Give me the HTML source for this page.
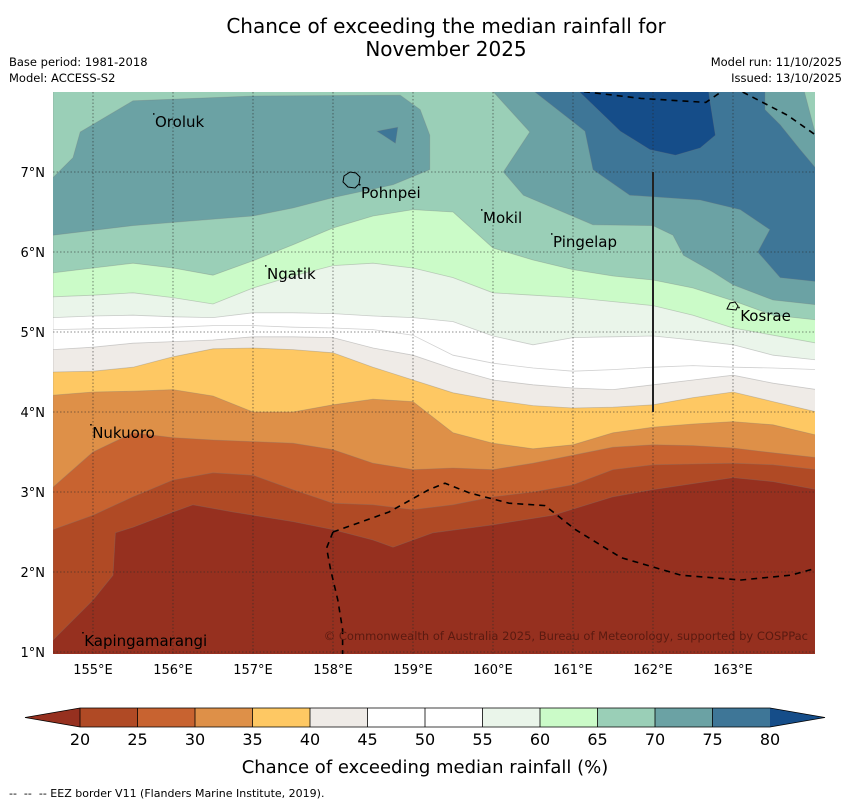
<!DOCTYPE html>
<html><head><meta charset="utf-8"><style>
body{margin:0;background:#fff;}
svg{display:block;font-family:"DejaVu Sans","Liberation Sans",sans-serif;}
</style></head><body>
<svg id="chart" width="850" height="804" viewBox="0 0 850 804">
<text x="446" y="33" text-anchor="middle" font-size="20">Chance of exceeding the median rainfall for</text>
<text x="446" y="56" text-anchor="middle" font-size="20">November 2025</text>
<text x="9" y="66" font-size="11.5">Base period: 1981-2018</text>
<text x="9" y="82" font-size="11.5">Model: ACCESS-S2</text>
<text x="842" y="66" font-size="11.5" text-anchor="end">Model run: 11/10/2025</text>
<text x="842" y="82" font-size="11.5" text-anchor="end">Issued: 13/10/2025</text>
<defs><clipPath id="mapclip"><rect x="53" y="92" width="762" height="562"/></clipPath></defs>
<g id="map" clip-path="url(#mapclip)"></g>
<g id="axes"></g>
<g id="cbar"></g>
<text x="425" y="773" text-anchor="middle" font-size="18">Chance of exceeding median rainfall (%)</text>
<text x="9" y="797" font-size="11" xml:space="preserve" style="white-space:pre">--  --  -- EEZ border V11 (Flanders Marine Institute, 2019).</text>
</svg>
<script>
// ---- data ----
const levels = [20,25,30,35,40,45,50,55,60,65,70,75,80];
const bandColors = ["#96301f","#b04a25","#c86330","#de9048","#fec863","#efebe7","#ffffff","#ffffff","#eaf5ea","#cbfbc8","#9acfb7","#6ba2a4","#3e7697","#154d89"];
const gridLons = [154.5,155,155.5,156,156.5,157,157.5,158,158.5,159,159.5,160,160.5,161,161.5,162,162.5,163,163.5,164.05];
const t20Lons = [154.5,154.75,155,155.25,155.28,155.5,156,156.25,156.75,157.5,158,158.5,158.75,159.25,160,160.75,161.5,162,163,163.5,164.05];
const t20Lats = [1.15,1.4,1.65,1.96,2.49,2.56,2.75,2.84,2.75,2.63,2.53,2.4,2.31,2.49,2.59,2.71,2.94,3.03,3.18,3.13,3.03];
const t25Lats = [2.53,2.71,2.94,3.15,3.24,3.21,3.03,2.86,2.84,2.78,2.84,2.94,3.0,3.09,3.28,3.34,3.35,3.36,3.34,3.28];
const t30Lats = [3.06,3.5,3.74,3.68,3.65,3.63,3.61,3.53,3.36,3.28,3.3,3.28,3.36,3.46,3.56,3.59,3.58,3.55,3.49,3.43];
const t35Lats = [4.21,4.25,4.26,4.28,4.2,4.0,4.0,4.09,4.16,4.13,3.74,3.61,3.54,3.59,3.74,3.81,3.85,3.88,3.84,3.71];
const t40Lats = [4.5,4.51,4.56,4.69,4.79,4.8,4.78,4.74,4.56,4.4,4.24,4.15,4.08,4.05,4.06,4.09,4.18,4.25,4.13,4.0];
const t45Lats = [4.78,4.81,4.86,4.88,4.9,4.94,4.94,4.93,4.8,4.71,4.54,4.4,4.34,4.3,4.28,4.34,4.4,4.46,4.36,4.28];
const t50Lats = [5.03,5.04,5.05,5.06,5.08,5.08,5.06,5.05,5.03,4.96,4.71,4.61,4.55,4.51,4.53,4.56,4.58,4.56,4.55,4.53];
const t55Lats = [5.18,5.2,5.21,5.19,5.18,5.24,5.24,5.23,5.2,5.18,5.13,4.95,4.84,4.93,4.94,4.95,4.9,4.84,4.71,4.65];
const t60Lats = [5.44,5.46,5.49,5.43,5.35,5.55,5.7,5.83,5.86,5.8,5.68,5.49,5.46,5.43,5.38,5.33,5.21,5.05,4.96,4.86];
const t65Lats = [5.74,5.8,5.86,5.8,5.71,5.89,6.09,6.3,6.45,6.53,6.5,6.05,5.9,5.78,5.7,5.65,5.55,5.39,5.21,5.15];
const left70Lons = [154.4,154.5,154.75,154.84,155.5,157,158.84,159.09,159.21,159.21,158.75,158,157.5,157,156.25,155.5,154.5,154.4];
const left70Lats = [6.93,6.93,7.18,7.5,7.89,7.95,7.96,7.78,7.46,7.03,6.84,6.68,6.55,6.45,6.39,6.33,6.21,6.21];
const right70Lons = [159.96,160.46,160.13,160.38,161.25,162,162.25,162.38,162.75,163,163.5,164.05,164.05,163.88];
const right70Lats = [8.05,7.5,7.0,6.71,6.34,6.33,6.21,5.96,5.75,5.59,5.4,5.34,7.4,8.05];
const right75Lons = [160.46,161.15,161.25,161.71,162.59,163.09,163.46,163.31,163.59,164.05,164.05,163.84,163.59,163.4,163.4];
const right75Lats = [8.05,7.51,7.03,6.71,6.65,6.53,6.28,6.0,5.68,5.63,7.03,7.28,7.59,7.78,8.05];
const small75Lons = [158.55,158.81,158.78];
const small75Lats = [7.51,7.56,7.36];
const top80Lons = [161.03,161.59,161.96,162.28,162.59,162.78,162.71,162.69];
const top80Lats = [8.05,7.51,7.28,7.21,7.3,7.46,7.9,8.05];
const lonTicks = [155,156,157,158,159,160,161,162,163];
const latTicks = [1,2,3,4,5,6,7];
const islandNames = ["Oroluk","Pohnpei","Mokil","Pingelap","Ngatik","Kosrae","Nukuoro","Kapingamarangi"];
const islandLons = [155.775,158.35,159.875,160.75,157.175,163.09,154.99,154.89];
const islandLats = [7.56,6.675,6.36,6.06,5.66,5.14,3.675,1.075];
const eezSouthLons = [158.0,157.92,157.97,158.06,158.12,158.12];
const eezSouthLats = [2.5,2.3,2.03,1.65,1.28,0.95];
const eezMainLons = [158.0,158.7,159.2,159.4,159.7,160.2,160.65,161.03,161.6,162.35,163.1,163.72,164.05];
const eezMainLats = [2.5,2.75,3.03,3.11,2.99,2.86,2.83,2.53,2.18,1.96,1.9,1.96,2.05];
const eezTopLons = [161.0,161.85,162.66,162.85];
const eezTopLats = [8.02,7.92,7.87,8.0];
const eezNELons = [163.12,163.68,164.05];
const eezNELats = [8.0,7.71,7.45];
const cbarTicks = [20,25,30,35,40,45,50,55,60,65,70,75,80];

// ---- scales ----
const X = lon => 53 + (lon-154.5)*80;
const Y = lat => 732 - lat*80;
const NS = "http://www.w3.org/2000/svg";
function mk(tag, attrs, parent){const e=document.createElementNS(NS,tag);for(const k in attrs)e.setAttribute(k,attrs[k]);parent.appendChild(e);return e;}
const map = document.getElementById('map');
const axes = document.getElementById('axes');
const cbar = document.getElementById('cbar');

const bg = mk('rect',{x:53,y:92,width:762,height:562,fill:bandColors[0]},map);



function bandFromBoundary(lons,lats,color,name){
  let d='M'+X(lons[0])+','+Y(8.2);
  for(let i=0;i<lons.length;i++) d+=' L'+X(lons[i]).toFixed(1)+','+Y(lats[i]).toFixed(1);
  d+=' L'+X(lons[lons.length-1])+','+Y(8.2)+' Z';
  const p=mk('path',{d:d,fill:color,stroke:'rgba(120,120,120,0.35)','stroke-width':0.8},map);
  
  
}
function blob(lons,lats,color,name){
  let d='';
  for(let i=0;i<lons.length;i++) d+=(i?' L':'M')+X(lons[i]).toFixed(1)+','+Y(lats[i]).toFixed(1);
  d+=' Z';
  const p=mk('path',{d:d,fill:color,stroke:'rgba(120,120,120,0.3)','stroke-width':0.8},map);
  
  
}
bandFromBoundary(t20Lons,t20Lats,bandColors[1],'band-20-25');
const gridBounds=[t25Lats,t30Lats,t35Lats,t40Lats,t45Lats,t50Lats,t55Lats,t60Lats,t65Lats];
gridBounds.forEach((lats,i)=>bandFromBoundary(gridLons,lats,bandColors[i+2],'band-'+levels[i+1]+'-'+levels[i+2]));
blob(left70Lons,left70Lats,bandColors[11],'band-70-75-west');
blob(right70Lons,right70Lats,bandColors[11],'band-70-75-east');
blob(right75Lons,right75Lats,bandColors[12],'band-75-80-east');
blob(small75Lons,small75Lats,bandColors[12],'band-75-80-small');
blob(top80Lons,top80Lats,bandColors[13],'band-above-80');

lonTicks.forEach(lon=>{
  const l=mk('line',{x1:X(lon),x2:X(lon),y1:92,y2:654,stroke:'rgba(40,40,40,0.7)','stroke-width':0.8,'stroke-dasharray':'1.5,2'},map);
  
  
});
latTicks.forEach(lat=>{
  const l=mk('line',{x1:53,x2:815,y1:Y(lat),y2:Y(lat),stroke:'rgba(40,40,40,0.7)','stroke-width':0.8,'stroke-dasharray':'1.5,2'},map);
  
  
});
const vl=mk('line',{x1:X(162),x2:X(162),y1:Y(7),y2:Y(4),stroke:'#222','stroke-width':2},map);



function dashed(lons,lats,name){
  let d='';
  for(let i=0;i<lons.length;i++) d+=(i?' L':'M')+X(lons[i]).toFixed(1)+','+Y(lats[i]).toFixed(1);
  const p=mk('path',{d:d,fill:'none',stroke:'#000','stroke-width':1.6,'stroke-dasharray':'6,5'},map);
  
  
}
dashed(eezSouthLons,eezSouthLats,'eez-border-south');
dashed(eezMainLons,eezMainLats,'eez-border-main');
dashed(eezTopLons,eezTopLats,'eez-border-north');
dashed(eezNELons,eezNELats,'eez-border-northeast');

const pohn=mk('path',{d:'M344,176 L350,172 L356,173 L360,177 L359,184 L355,188 L348,187 L343,182 Z',fill:'none',stroke:'#000','stroke-width':1},map);


const kos=mk('path',{d:'M727,309 L730,303 L735,302 L738,306 L736,310 Z',fill:'none',stroke:'#000','stroke-width':1},map);


islandNames.forEach((n,i)=>{
  const t=mk('text',{x:X(islandLons[i]),y:Y(islandLats[i]),'font-size':15,fill:'#000'},map);
  t.textContent=n;
  
  
  const d=mk('rect',{x:X(islandLons[i])-2,y:Y(islandLats[i])-14,width:1.5,height:1.5,fill:'#000'},map);
  
  
});
const cp=mk('text',{x:808,y:640,'font-size':11.5,'text-anchor':'end',fill:'#5a1a10'},map);
cp.textContent='© Commonwealth of Australia 2025, Bureau of Meteorology, supported by COSPPac';



lonTicks.forEach(lon=>{
  const t=mk('text',{x:X(lon),y:674,'font-size':13,'text-anchor':'middle'},axes);
  t.textContent=lon+'°E';
  
  
});
latTicks.forEach(lat=>{
  const t=mk('text',{x:45,y:Y(lat)+5,'font-size':13,'text-anchor':'end'},axes);
  t.textContent=lat+'°N';
  
  
});

const C0=80,CW=57.5,CY=708,CH=19;
const lt=mk('polygon',{points:`25,${CY+CH/2} ${C0},${CY} ${C0},${CY+CH}`,fill:bandColors[0]},cbar);


for(let i=0;i<12;i++){
  const r=mk('rect',{x:C0+i*CW,y:CY,width:CW,height:CH,fill:bandColors[i+1]},cbar);
  
  
  const s=mk('line',{x1:C0+i*CW,x2:C0+i*CW,y1:CY,y2:CY+CH,stroke:'#000','stroke-width':0.8},cbar);
  
  
}
const rt=mk('polygon',{points:`${C0+12*CW},${CY} 825,${CY+CH/2} ${C0+12*CW},${CY+CH}`,fill:bandColors[13]},cbar);


const ol=mk('polygon',{points:`25,${CY+CH/2} ${C0},${CY} ${C0+12*CW},${CY} 825,${CY+CH/2} ${C0+12*CW},${CY+CH} ${C0},${CY+CH}`,fill:'none',stroke:'#000','stroke-width':0.8},cbar);


cbarTicks.forEach((v,i)=>{
  const t=mk('text',{x:C0+i*CW,y:745,'font-size':16,'text-anchor':'middle'},cbar);
  t.textContent=v;
  
  
});
</script>
</body></html>
